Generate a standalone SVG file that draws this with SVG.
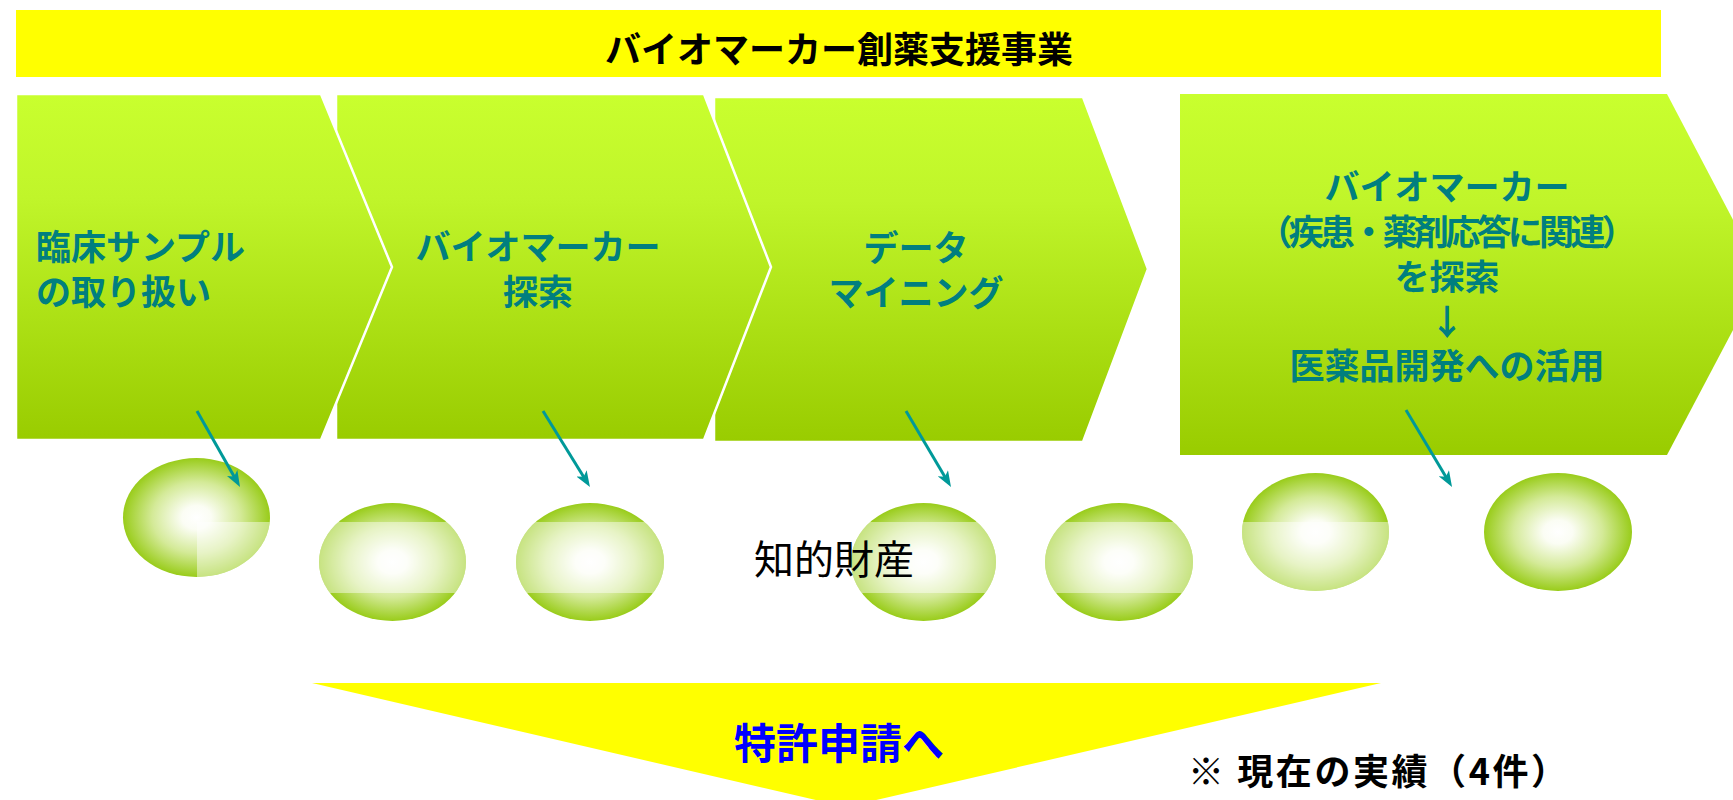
<svg xmlns="http://www.w3.org/2000/svg" width="1733" height="800" viewBox="0 0 1733 800">
<style>
.chev{fill:url(#chevGrad);stroke:#ffffff;stroke-width:2.5;stroke-linejoin:miter}
.ctext{font-family:"Noto Sans CJK JP","Noto Sans",sans-serif;font-weight:bold;font-size:35px;fill:#007f7f}
.title{font-family:"Noto Sans CJK JP","Noto Sans",sans-serif;font-weight:bold;font-size:36px;fill:#000000}
.egg{fill:url(#eggGrad)}
.wash{fill:#ffffff;fill-opacity:0.45}
.arr{stroke:#009999;stroke-width:3;fill:none;marker-end:url(#head)}
</style>
<defs>
<linearGradient id="chevGrad" x1="0" y1="0" x2="0" y2="1">
<stop offset="0" stop-color="#c9ff2e"/>
<stop offset="0.3" stop-color="#c0f52a"/>
<stop offset="1" stop-color="#99cc00"/>
</linearGradient>
<radialGradient id="eggGrad" cx="0.5" cy="0.5" r="0.5">
<stop offset="0" stop-color="#ffffff"/>
<stop offset="0.2" stop-color="#fbfdf4"/>
<stop offset="0.6" stop-color="#d4ea98"/>
<stop offset="1" stop-color="#99cc1a"/>
</radialGradient>
<marker id="head" viewBox="0 0 16 12" refX="6" refY="6" markerWidth="16" markerHeight="12" markerUnits="userSpaceOnUse" orient="auto">
<path d="M0,0 L16,6 L0,12 L4,6 z" fill="#009999"/>
</marker>
<clipPath id="cE1"><ellipse cx="196.5" cy="517.5" rx="73.5" ry="59.5"/></clipPath>
<clipPath id="cE2"><ellipse cx="392.5" cy="562" rx="73.5" ry="59"/></clipPath>
<clipPath id="cE3"><ellipse cx="590" cy="562" rx="74" ry="59"/></clipPath>
<clipPath id="cE4"><ellipse cx="923.5" cy="562" rx="72.5" ry="59"/></clipPath>
<clipPath id="cE5"><ellipse cx="1119" cy="562" rx="74" ry="59"/></clipPath>
<clipPath id="cE6"><ellipse cx="1315.5" cy="532" rx="73.5" ry="59"/></clipPath>
</defs>

<g id="banner">
<rect x="16" y="10" width="1645" height="67" fill="#ffff00"/>
<text class="title" x="839" y="63" text-anchor="middle">バイオマーカー創薬支援事業</text>
</g>

<g id="step4">
<polygon points="1180,94 1667,94 1762,275 1667,455 1180,455" fill="url(#chevGrad)"/>
<text class="ctext" x="1447" y="200" text-anchor="middle">バイオマーカー</text>
<text class="ctext" x="1447" y="245" text-anchor="middle" textLength="379" lengthAdjust="spacing">（疾患・薬剤応答に関連）</text>
<text class="ctext" x="1447" y="290" text-anchor="middle">を探索</text>
<text class="ctext" x="1447" y="335" text-anchor="middle">↓</text>
<text class="ctext" x="1447" y="379" text-anchor="middle">医薬品開発への活用</text>
</g>

<g id="step3">
<polygon class="chev" points="714,97 1083,97 1148,269 1083,442 714,442" stroke="none"/>
<text class="ctext" x="916" y="261" text-anchor="middle">データ</text>
<text class="ctext" x="916" y="306" text-anchor="middle">マイニング</text>
</g>

<g id="step2">
<polygon class="chev" points="336,94 704,94 771,267 704,440 336,440"/>
<text class="ctext" x="538" y="260" text-anchor="middle">バイオマーカー</text>
<text class="ctext" x="538" y="305" text-anchor="middle">探索</text>
</g>

<g id="step1">
<polygon class="chev" points="16,94 321,94 392,267 321,440 16,440"/>
<text class="ctext" x="36" y="260">臨床サンプル</text>
<text class="ctext" x="36" y="305">の取り扱い</text>
</g>

<g id="ip1">
<ellipse class="egg" cx="196.5" cy="517.5" rx="73.5" ry="59.5"/>
<rect class="wash" x="197" y="522" width="80" height="60" clip-path="url(#cE1)"/>
</g>
<g id="ip2">
<ellipse class="egg" cx="392.5" cy="562" rx="73.5" ry="59"/>
<rect class="wash" x="315" y="522" width="160" height="71" clip-path="url(#cE2)"/>
</g>
<g id="ip3">
<ellipse class="egg" cx="590" cy="562" rx="74" ry="59"/>
<rect class="wash" x="512" y="522" width="160" height="71" clip-path="url(#cE3)"/>
</g>
<g id="ip4">
<ellipse class="egg" cx="923.5" cy="562" rx="72.5" ry="59"/>
<rect class="wash" x="847" y="522" width="160" height="71" clip-path="url(#cE4)"/>
</g>
<g id="ip5">
<ellipse class="egg" cx="1119" cy="562" rx="74" ry="59"/>
<rect class="wash" x="1041" y="522" width="160" height="71" clip-path="url(#cE5)"/>
</g>
<g id="ip6">
<ellipse class="egg" cx="1315.5" cy="532" rx="73.5" ry="59"/>
<rect class="wash" x="1238" y="522" width="160" height="75" clip-path="url(#cE6)"/>
</g>
<g id="ip7">
<ellipse class="egg" cx="1558" cy="532" rx="74" ry="59"/>
</g>

<g id="ip-label">
<text x="754" y="574" font-family="'Noto Sans CJK JP','Noto Sans',sans-serif" font-size="40" fill="#000000">知的財産</text>
</g>

<g id="connectors">
<line class="arr" x1="197" y1="411" x2="235.1" y2="478.3"/>
<line class="arr" x1="543" y1="411" x2="584.7" y2="478.5"/>
<line class="arr" x1="906" y1="411" x2="945.9" y2="478.4"/>
<line class="arr" x1="1406" y1="410" x2="1446.9" y2="478.4"/>
</g>

<g id="patent">
<polygon points="312,683 1381,683 846,807" fill="#ffff00"/>
<text x="839" y="759" text-anchor="middle" font-family="'Noto Sans CJK JP','Noto Sans',sans-serif" font-weight="bold" font-size="42" fill="#0000ff">特許申請へ</text>
</g>

<g id="note">
<text x="1188" y="785" font-family="'Noto Sans CJK JP','Noto Sans',sans-serif" font-weight="bold" font-size="36" fill="#000000" textLength="379" lengthAdjust="spacing">※ 現在の実績（4件）</text>
</g>
</svg>
